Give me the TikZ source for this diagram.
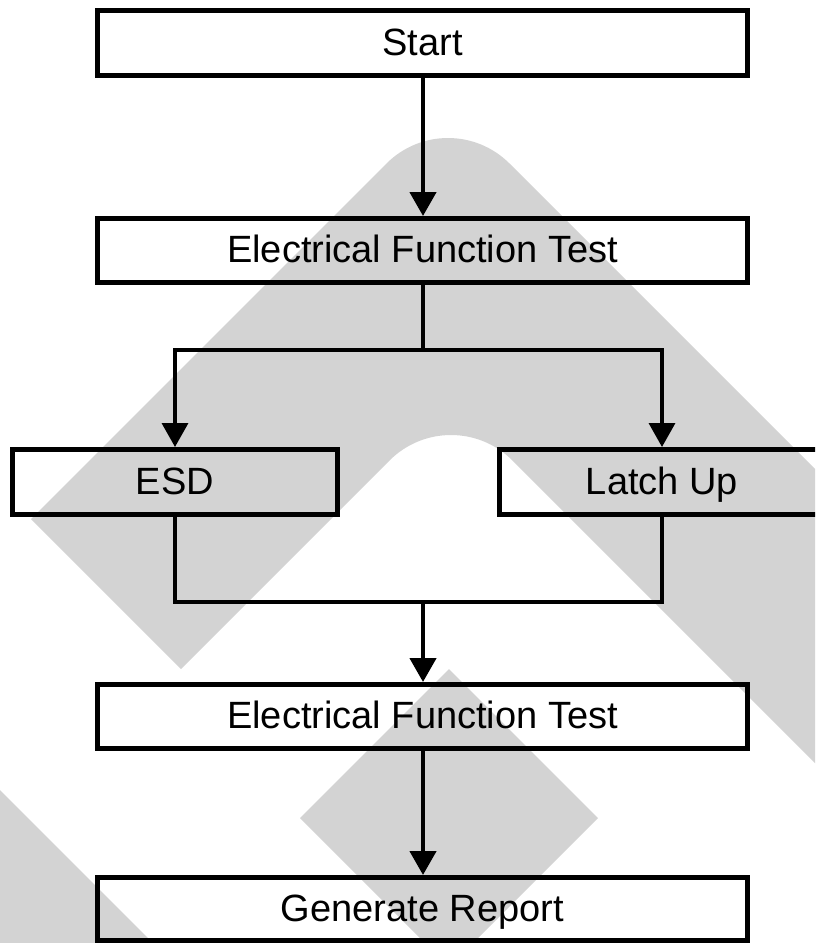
\documentclass[tikz,border=0pt]{standalone}
\usepackage{fontspec}
\setmainfont{Liberation Sans}
\usetikzlibrary{arrows.meta}
\definecolor{wm}{RGB}{211,211,211}
\begin{document}
\begin{tikzpicture}[x=1pt,y=-1pt,
  box/.style={draw, line width=5pt, inner sep=0pt, text height=24pt, text depth=0pt,
    font=\fontsize{38pt}{45pt}\selectfont},
  wide/.style={box, minimum width=650pt, minimum height=64pt},
  narrow/.style={box, minimum width=325pt, minimum height=65pt},
  conn/.style={line width=4.5pt, -{Triangle[width=26pt,length=24pt]}},
  branch/.style={line width=3.5pt},
  barrow/.style={branch, -{Triangle[width=26pt,length=24pt]}}]
\useasboundingbox (0,0) rectangle (815,943);
\begin{scope}
\clip (0,0) rectangle (815,943);
% watermark shapes
\fill[wm] (31,519) -- (386.5,163.5) .. controls (420.5,129.5) and (475.5,129.5) .. (509.5,163.5)
  -- (1200,854) -- (1200,1148) -- (512.5,460.5)
  .. controls (478.5,426.5) and (423.5,426.5) .. (389.5,460.5) -- (181,669) -- cycle;
\fill[wm] (449,669) -- (598,818) -- (449,967) -- (300,818) -- cycle;
\fill[wm] (0,790) -- (200,990) -- (-50,990) -- (-50,790) -- cycle;
% boxes
\node[wide, minimum height=65pt] (start) at (422.5,43) {Start};
\node[wide] (eft1) at (422.5,250.5) {Electrical Function Test};
\node[narrow] (esd) at (175,482) {ESD};
\node[narrow] (latch) at (662,482) {Latch Up};
\node[wide] (eft2) at (422.5,716.5) {Electrical Function Test};
\node[wide, minimum height=63pt] (report) at (422.5,909) {Generate Report};
% junctions
\coordinate (j1) at (423,350);
\coordinate (j2) at (423,602);
% connectors
\draw[conn] (start.south -| j1) -- (eft1.north -| j1);
\draw[line width=4pt] (eft1.south -| j1) -- (j1);
\draw[barrow] (j1) -| (esd.north);
\draw[barrow] (j1) -| (latch.north);
\draw[branch] (esd.south) |- (j2) -| (latch.south);
\draw[conn] (j2) -- (eft2.north -| j2);
\draw[conn] (eft2.south -| j2) -- (report.north -| j2);
\end{scope}
\end{tikzpicture}
\end{document}
